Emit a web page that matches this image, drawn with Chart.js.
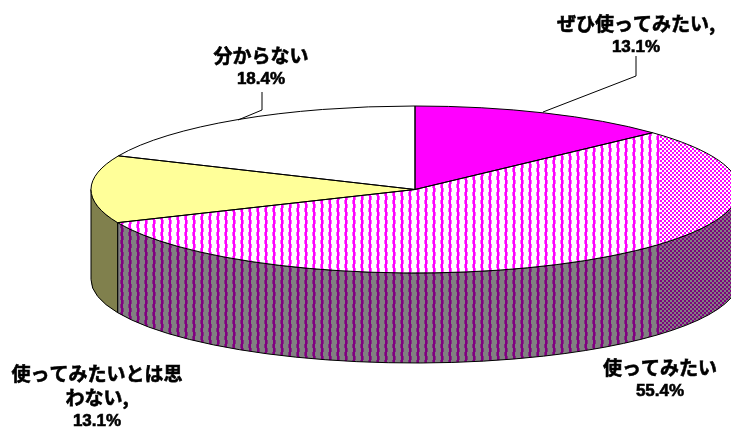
<!DOCTYPE html>
<html>
<head>
<meta charset="utf-8">
<style>
  html, body { margin: 0; padding: 0; background: #fff; overflow: hidden; }
  #wrap { width: 731px; height: 431px; }
</style>
<script src="https://cdn.jsdelivr.net/npm/chart.js@4"></script>
</head>
<body>
<div id="wrap"><canvas id="grafico" width="731" height="431"></canvas></div>
<script>
// data
const categories = ["ぜひ使ってみたい,", "使ってみたい", "使ってみたいとは思 わない,", "分からない"];
const shares = [13.1, 55.4, 13.1, 18.4];
const categoryLines = [["ぜひ使ってみたい,"], ["使ってみたい"], ["使ってみたいとは思", "わない,"], ["分からない"]];
const labelCenterX = [636, 660, 97, 261];
const labelTopY = [24, 368, 374, 56];

const RADIUS_X = 324;
const RADIUS_Y = 83.5;
const DEPTH = 90;
const squash = RADIUS_Y / RADIUS_X;

// the hatch changes to a finer one right of x=660 in the original
function makeHatch(ink, soft, paper) {
    const tile = document.createElement("canvas");
    tile.width = 731;
    tile.height = 431;
    const g = tile.getContext("2d");
    g.fillStyle = paper;
    g.fillRect(0, 0, 731, 431);
    for (let y = 0; y < 431; y++) {
        for (let x = 0; x < 731; x++) {
            if (x < 660) {
                // chain: two solid columns with a soft bump left, then right
                const col = x % 8;
                const upper = y % 8 < 4;
                if (col === 1 || col === 2) {
                    g.fillStyle = ink;
                    g.fillRect(x, y, 1, 1);
                } else if ((col === 0 && upper) || (col === 3 && !upper)) {
                    g.fillStyle = soft;
                    g.fillRect(x, y, 1, 1);
                }
            } else if ((Math.floor(x / 2) + Math.floor(y / 2)) % 2 === 0) {
                g.fillStyle = ink;
                g.fillRect(x, y, 1, 1);
            }
        }
    }
    return g.createPattern(tile, "repeat");
}

const topHatch = makeHatch("#ff00ff", "#ff60ff", "#ffffff");
const wallHatch = makeHatch("#800080", "#803080", "#808080");

const topColors = ["#ff00ff", topHatch, "#ffff99", "#ffffff"];
const wallColors = ["#800080", wallHatch, "#80804d", "#808080"];

const pie3d = {
    id: "pie3d",
    beforeDatasetsDraw(chart) {
        const ctx = chart.ctx;
        const arcs = chart.getDatasetMeta(0).data;
        const cx = arcs[0].x, cy = arcs[0].y;

        // walls first, only the front half of the pie shows one
        arcs.forEach((arc, i) => {
            const lo = Math.max(arc.startAngle, 0);
            const hi = Math.min(arc.endAngle, Math.PI);
            if (hi <= lo) return;
            ctx.beginPath();
            ctx.ellipse(cx, cy, RADIUS_X, RADIUS_Y, 0, lo, hi);
            ctx.ellipse(cx, cy + DEPTH, RADIUS_X, RADIUS_Y, 0, hi, lo, true);
            ctx.closePath();
            ctx.fillStyle = wallColors[i];
            ctx.fill();
            ctx.strokeStyle = "#000";
            ctx.lineWidth = 1;
            ctx.stroke();
        });

        // squash the round pie to an ellipse, keep the hatch in page pixels
        topHatch.setTransform(new DOMMatrix().translate(cx, cy).scale(1, 1 / squash).translate(-cx, -cy));
        ctx.save();
        ctx.translate(cx, cy);
        ctx.scale(1, squash);
        ctx.translate(-cx, -cy);
    },
    afterDatasetsDraw(chart) {
        const ctx = chart.ctx;
        ctx.restore();
        const arcs = chart.getDatasetMeta(0).data;
        const cx = arcs[0].x, cy = arcs[0].y;

        ctx.strokeStyle = "#000";
        ctx.lineWidth = 1;
        arcs.forEach((arc) => {
            ctx.beginPath();
            ctx.moveTo(cx, cy);
            ctx.ellipse(cx, cy, RADIUS_X, RADIUS_Y, 0, arc.startAngle, arc.endAngle);
            ctx.closePath();
            ctx.stroke();
        });

        // leader lines
        ctx.beginPath();
        ctx.moveTo(636, 56);
        ctx.lineTo(636, 76);
        ctx.lineTo(543, 112);
        ctx.moveTo(262, 92);
        ctx.lineTo(262, 110);
        ctx.lineTo(238, 120);
        ctx.stroke();

        // labels, the original text is heavier than plain bold
        ctx.fillStyle = "#000";
        ctx.lineWidth = 0.6;
        ctx.textAlign = "center";
        ctx.textBaseline = "middle";
        const heavyText = (text, x, y) => {
            ctx.fillText(text, x, y);
            ctx.strokeText(text, x, y);
        };
        categoryLines.forEach((lines, i) => {
            let y = labelTopY[i];
            ctx.font = 'bold 19px "Noto Sans CJK JP"';
            lines.forEach((line) => {
                heavyText(line, labelCenterX[i], y);
                y += 24;
            });
            ctx.font = 'bold 17px "Liberation Sans"';
            heavyText(shares[i].toFixed(1) + "%", labelCenterX[i], y - 1);
        });
    }
};

new Chart(document.getElementById("grafico").getContext("2d"), {
    type: "pie",
    data: {
        labels: categories,
        datasets: [{
            data: shares,
            backgroundColor: topColors,
            borderWidth: 0,
            radius: RADIUS_X,
            clip: false
        }]
    },
    options: {
        responsive: false,
        devicePixelRatio: 1,
        animation: false,
        layout: { padding: { left: 99, right: 0, top: 0, bottom: 52 } },
        plugins: {
            legend: { display: false },
            title: { display: false },
            tooltip: { enabled: false }
        }
    },
    plugins: [pie3d]
});
</script>
</body>
</html>
